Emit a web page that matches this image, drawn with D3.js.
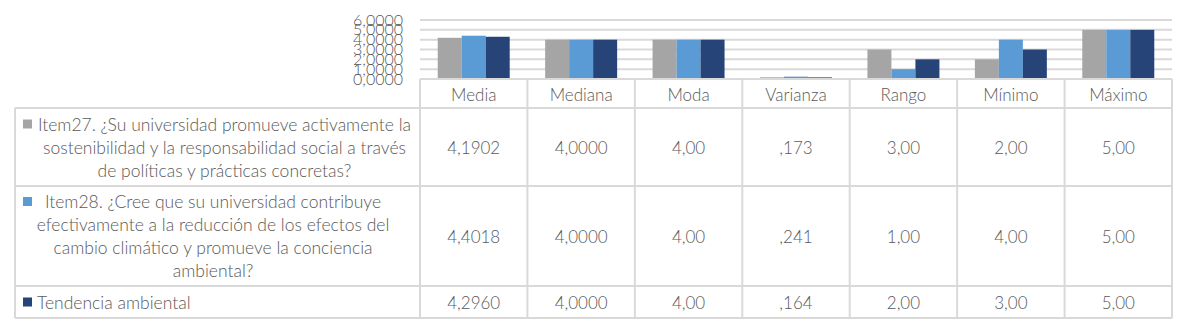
<!DOCTYPE html>
<html><head><meta charset="utf-8">
<script src="https://cdn.jsdelivr.net/npm/d3@7"></script>
<style>html,body{margin:0;padding:0;background:#fff;}svg{display:block;font-family:Lato,"Open Sans",sans-serif;}</style>
</head><body><svg id="c" width="1185" height="327"></svg>
<script>
const categories = ["Media","Mediana","Moda","Varianza","Rango","Mínimo","Máximo"];
const seriesNames = ["Item27","Item28","Tendencia ambiental"];
const item27 = [4.1902, 4.0000, 4.00, 0.173, 3.00, 2.00, 5.00];
const item28 = [4.4018, 4.0000, 4.00, 0.241, 1.00, 4.00, 5.00];
const tendencia = [4.2960, 4.0000, 4.00, 0.164, 2.00, 3.00, 5.00];
const item27Text = ["4,1902","4,0000","4,00",",173","3,00","2,00","5,00"];
const item28Text = ["4,4018","4,0000","4,00",",241","1,00","4,00","5,00"];
const tendenciaText = ["4,2960","4,0000","4,00",",164","2,00","3,00","5,00"];
const yTicks = [0,1,2,3,4,5,6];
const rowLabels = [
  ["Item27. ¿Su universidad promueve activamente la","sostenibilidad y la responsabilidad social a través","de políticas y prácticas concretas?"],
  ["Item28. ¿Cree que su universidad contribuye","efectivamente a la reducción de los efectos del","cambio climático y promueve la conciencia","ambiental?"],
  ["Tendencia ambiental"]
];
const colors = ["#A5A5A5","#5B9BD5","#264478"];

const series = [item27, item28, tendencia];
const seriesText = [item27Text, item28Text, tendenciaText];

const svg = d3.select("#c");
const plotL = 420, plotR = 1172, plotTop = 20, plotBottom = 79;
const tableLeft = 15;
const rowEdges = [108, 186, 286, 318];
const headerTop = 79;
const lineCol = "#D9D9D9", textCol = "#595959";
const fs = "17px", fsRow = "17.5px", fw = 300;

const x = d3.scaleBand().domain(categories).range([plotL, plotR]).paddingInner(0).paddingOuter(0);
const bw = x.bandwidth();
const x1 = d3.scaleBand().domain(d3.range(series.length)).range([bw*0.165, bw*0.835]).padding(0);
const y = d3.scaleLinear().domain([0,6]).range([plotBottom, plotTop]);

// gridlines
svg.append("g").selectAll("line").data(yTicks.filter(d=>d>0)).join("line")
  .attr("x1", plotL).attr("x2", plotR)
  .attr("y1", d=>y(d)).attr("y2", d=>y(d))
  .attr("stroke", lineCol).attr("stroke-width", 2);

// y axis labels
const yAxis = d3.axisLeft(y).tickValues(yTicks).tickSize(0).tickPadding(0)
  .tickFormat(d => d3.format(".4f")(d).replace(".", ","));
const ya = svg.append("g").attr("transform", `translate(403,0)`).call(yAxis);
ya.select(".domain").remove();
ya.selectAll("text").attr("fill", textCol).style("font-size","16px").style("font-family","Lato").style("font-weight", fw);

// bars
const bars = svg.append("g");
series.forEach((s, si) => {
  bars.selectAll(null).data(s).join("rect")
    .attr("x", (d,i) => x(categories[i]) + x1(si))
    .attr("width", x1.bandwidth())
    .attr("y", d => y(d))
    .attr("height", d => y(0) - y(d))
    .attr("fill", colors[si]);
});

// table lines
const tg = svg.append("g").attr("stroke", lineCol).attr("stroke-width", 2).attr("fill","none");
tg.append("line").attr("x1", plotL).attr("x2", plotR).attr("y1", headerTop).attr("y2", headerTop);
rowEdges.forEach(yy => tg.append("line").attr("x1", tableLeft).attr("x2", plotR).attr("y1", yy).attr("y2", yy));
const colEdges = categories.map(c => x(c)).concat([plotR]);
colEdges.forEach(xx => tg.append("line").attr("x1", xx).attr("x2", xx).attr("y1", headerTop).attr("y2", rowEdges[rowEdges.length-1]));
tg.append("line").attr("x1", tableLeft).attr("x2", tableLeft).attr("y1", rowEdges[0]).attr("y2", rowEdges[rowEdges.length-1]);

// header labels
svg.append("g").selectAll("text").data(categories).join("text")
  .attr("x", d => x(d) + bw/2).attr("y", (headerTop + rowEdges[0])/2 + 1)
  .attr("text-anchor","middle").attr("dominant-baseline","central")
  .attr("fill", textCol).style("font-size",fs).style("font-weight", fw).text(d=>d);

// values
seriesText.forEach((arr, ri) => {
  const cy = (rowEdges[ri] + rowEdges[ri+1]) / 2;
  svg.append("g").selectAll("text").data(arr).join("text")
    .attr("x", (d,i) => x(categories[i]) + bw/2).attr("y", cy)
    .attr("text-anchor","middle").attr("dominant-baseline","central")
    .attr("fill", textCol).style("font-size",fs).style("font-weight", fw).text(d=>d);
});

// row labels with legend keys
const lineH = 23;
const centers = [224.5, 213, null];
rowLabels.forEach((lines, ri) => {
  const top = rowEdges[ri], bot = rowEdges[ri+1];
  const n = lines.length;
  const firstY = (top + bot)/2 - (n-1)*lineH/2;
  const g = svg.append("g");
  lines.forEach((ln, li) => {
    const t = g.append("text").attr("y", firstY + li*lineH)
      .attr("dominant-baseline","central").attr("fill", textCol)
      .style("font-size",fsRow).style("font-weight", fw).text(ln);
    if (centers[ri] === null) { t.attr("x", 37).attr("text-anchor","start"); }
    else { t.attr("x", centers[ri]).attr("text-anchor","middle"); }
  });
  g.append("rect").attr("x", 23).attr("y", firstY - 4.5).attr("width", 9).attr("height", 9)
    .attr("fill", colors[ri]);
});
</script></body></html>
